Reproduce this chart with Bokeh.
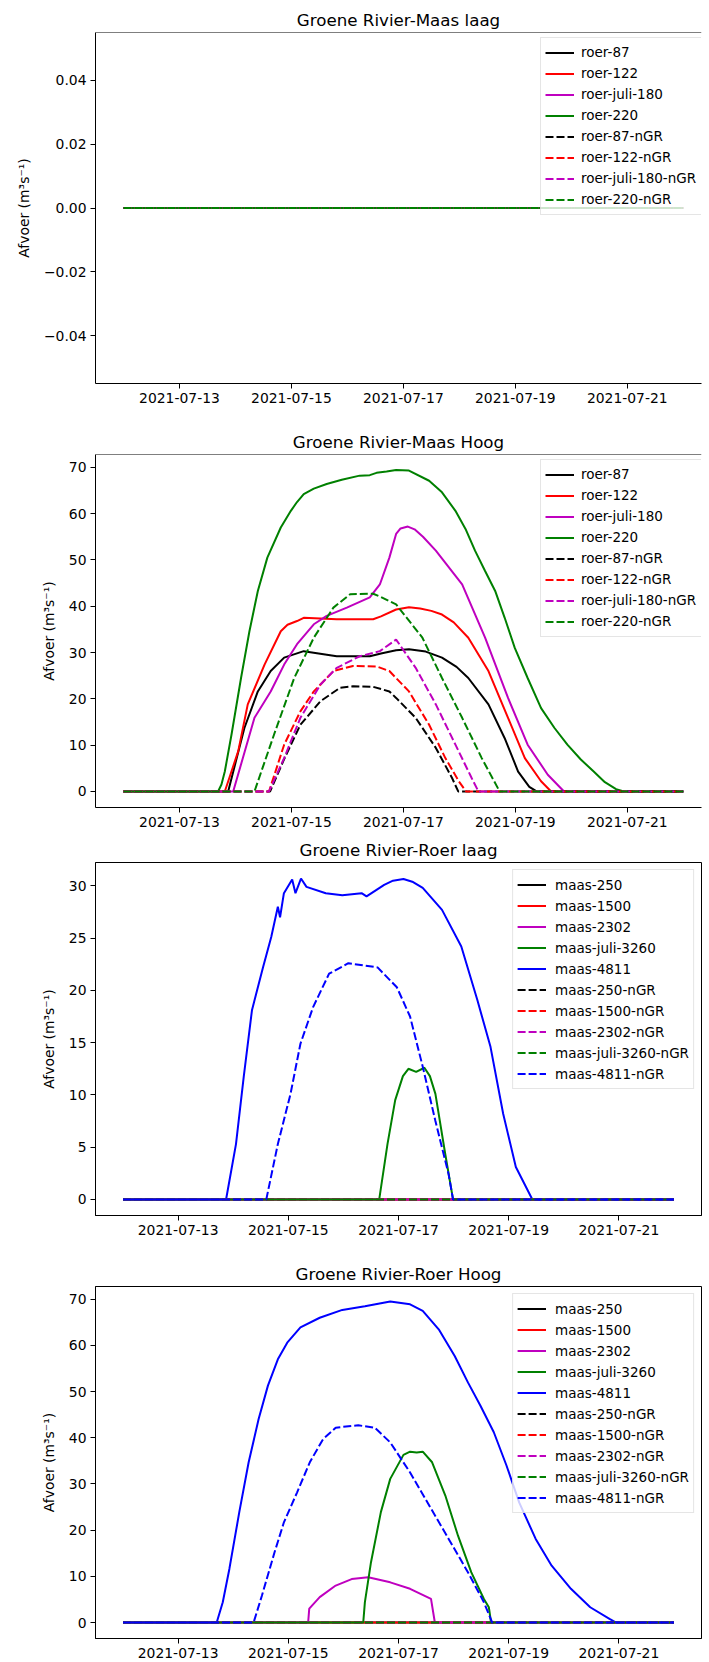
import pandas as pd
from bokeh.plotting import figure
from bokeh.layouts import column
from bokeh.models import Range1d, FixedTicker, DatetimeTickFormatter, Legend, LegendItem, Span
from bokeh.embed import file_html
from bokeh.resources import INLINE

START = "2021-07-12 00:00"          # t = 0 (days)
x_tick_labels = ["2021-07-13", "2021-07-15", "2021-07-17", "2021-07-19", "2021-07-21"]

# ---------------- Panel 1: Groene Rivier-Maas laag (all zero) ----------------
flat_t = [0, 10]
flat_q = [0, 0]
p1_yticks = [-0.04, -0.02, 0.0, 0.02, 0.04]
p1_ylabels = ["\u22120.04", "\u22120.02", "0.00", "0.02", "0.04"]

# ---------------- Panel 2: Groene Rivier-Maas Hoog ----------------
mh_roer87_t = [0, 1.87, 2.16, 2.40, 2.63, 2.87, 3.22, 3.81, 4.40, 4.60, 4.87, 5.1, 5.40, 5.69, 5.95, 6.16, 6.52, 6.81, 7.05, 7.25, 7.38, 10]
mh_roer87_q = [0, 0, 13.7, 21.6, 26, 28.9, 30.3, 29.2, 29.2, 29.8, 30.5, 30.7, 30.2, 28.9, 26.9, 24.5, 18.8, 11.5, 4.3, 1.0, 0, 0]
mh_roer122_t = [0, 1.81, 2.05, 2.22, 2.52, 2.81, 2.93, 3.10, 3.22, 3.81, 4.46, 4.60, 4.87, 5.1, 5.30, 5.50, 5.69, 5.90, 6.16, 6.52, 6.87, 7.17, 7.46, 7.64, 10]
mh_roer122_q = [0, 0, 8.7, 18.8, 27.4, 34.6, 36.0, 36.8, 37.5, 37.2, 37.2, 37.8, 39.3, 39.8, 39.5, 39.0, 38.2, 36.5, 33.2, 26, 15.9, 7.2, 2.2, 0, 0]
mh_roer180_t = [0, 1.96, 2.34, 2.63, 2.87, 3.10, 3.40, 3.63, 3.99, 4.40, 4.58, 4.75, 4.87, 4.95, 5.08, 5.20, 5.35, 5.58, 6.05, 6.46, 6.87, 7.22, 7.58, 7.87, 10]
mh_roer180_q = [0, 0, 15.9, 21.6, 27.4, 31.8, 36.1, 37.9, 39.7, 41.9, 44.7, 50.5, 55.6, 56.8, 57.2, 56.6, 55.0, 52, 44.7, 33.2, 20.2, 10.1, 3.6, 0, 0]
mh_roer220_t = [0, 1.69, 1.75, 1.81, 1.93, 2.10, 2.25, 2.40, 2.57, 2.81, 2.99, 3.10, 3.22, 3.40, 3.63, 3.90, 4.22, 4.40, 4.52, 4.70, 4.87, 5.10, 5.46, 5.69, 5.93, 6.11, 6.28, 6.46, 6.64, 6.81, 6.99, 7.22, 7.46, 7.70, 7.93, 8.17, 8.40, 8.60, 8.80, 8.94, 10]
mh_roer220_q = [0, 0, 1.5, 4.3, 12.3, 24.5, 34.6, 43.3, 50.5, 57, 60.6, 62.5, 64.2, 65.4, 66.4, 67.3, 68.2, 68.3, 68.8, 69.1, 69.4, 69.3, 67.1, 64.6, 60.6, 56.7, 52.0, 47.6, 43.3, 37.5, 31.0, 24.5, 18.0, 13.7, 10.1, 6.9, 4.3, 2.0, 0.5, 0, 0]
mh_roer87n_t = [0, 2.62, 2.87, 3.16, 3.52, 3.87, 4.10, 4.46, 4.75, 4.87, 5.22, 5.58, 5.87, 5.98, 10]
mh_roer87n_q = [0, 0, 7.0, 14.4, 19.5, 22.4, 22.7, 22.6, 21.6, 20.2, 15.9, 9.4, 2.9, 0, 0]
mh_roer122n_t = [0, 2.60, 2.87, 3.16, 3.40, 3.75, 4.10, 4.52, 4.75, 5.10, 5.46, 5.75, 5.99, 6.12, 10]
mh_roer122n_q = [0, 0, 10.1, 17.3, 21.6, 26, 27.1, 27.0, 26, 21.6, 14.4, 7.2, 2.2, 0, 0]
mh_roer180n_t = [0, 2.60, 2.87, 3.16, 3.52, 3.81, 4.22, 4.58, 4.87, 5.22, 5.58, 5.93, 6.22, 6.34, 10]
mh_roer180n_q = [0, 0, 7.2, 15.9, 23.1, 26.7, 29.2, 30.3, 32.8, 26.7, 18.8, 10.1, 2.9, 0, 0]
mh_roer220n_t = [0, 2.34, 2.69, 3.05, 3.40, 3.75, 4.05, 4.46, 4.60, 4.87, 5.34, 5.69, 6.05, 6.40, 6.72, 10]
mh_roer220n_q = [0, 0, 12.3, 24.5, 33.2, 39.7, 42.6, 42.7, 42.0, 40.4, 33.2, 24.5, 15.9, 7.2, 0, 0]
hoog_yticks = [0, 10, 20, 30, 40, 50, 60, 70]

# ---------------- Panel 3: Groene Rivier-Roer laag ----------------
rl_maas3260_t = [0, 4.65, 4.80, 4.94, 5.08, 5.18, 5.32, 5.47, 5.57, 5.67, 5.85, 5.99, 10]
rl_maas3260_q = [0, 0, 5.3, 9.5, 11.8, 12.5, 12.2, 12.6, 11.8, 10.1, 4.3, 0, 0]
rl_maas4811_t = [0, 1.87, 2.05, 2.19, 2.34, 2.54, 2.69, 2.81, 2.85, 2.92, 3.07, 3.13, 3.23, 3.33, 3.68, 3.98, 4.33, 4.42, 4.74, 4.90, 5.09, 5.25, 5.44, 5.79, 6.14, 6.43, 6.67, 6.90, 7.13, 7.43, 10]
rl_maas4811_q = [0, 0, 5.3, 11.7, 18.1, 22.2, 25.1, 28, 27, 29.3, 30.6, 29.3, 30.7, 29.9, 29.3, 29.1, 29.3, 29.0, 30.1, 30.5, 30.65, 30.4, 29.8, 27.7, 24.2, 19.1, 14.6, 8.2, 3.1, 0, 0]
rl_maas4811n_t = [0, 2.60, 2.81, 3.04, 3.22, 3.45, 3.74, 4.09, 4.62, 4.97, 5.21, 5.44, 5.67, 5.91, 5.99, 10]
rl_maas4811n_q = [0, 0, 5.3, 10.1, 14.9, 18.4, 21.6, 22.6, 22.2, 20.3, 17.5, 12.7, 7.5, 2.4, 0, 0]
rl_yticks = [0, 5, 10, 15, 20, 25, 30]

# ---------------- Panel 4: Groene Rivier-Roer Hoog ----------------
rh_maas2302_t = [0, 3.36, 3.38, 3.57, 3.86, 4.15, 4.45, 4.85, 5.21, 5.59, 5.66, 10]
rh_maas2302_q = [0, 0, 3.0, 5.5, 8.0, 9.4, 9.8, 8.7, 7.3, 5.1, 0, 0]
rh_maas3260_t = [0, 4.36, 4.39, 4.50, 4.68, 4.85, 5.09, 5.21, 5.33, 5.44, 5.61, 5.85, 6.08, 6.32, 6.55, 6.64, 6.68, 10]
rh_maas3260_q = [0, 0, 4.4, 13.0, 23.9, 31.1, 36.3, 37.0, 36.8, 37.0, 34.7, 27.5, 18.8, 10.9, 5.1, 3.3, 0, 0]
rh_maas4811_t = [0, 1.70, 1.81, 1.93, 2.11, 2.28, 2.46, 2.63, 2.81, 2.98, 3.22, 3.57, 3.98, 4.39, 4.85, 5.21, 5.44, 5.73, 6.02, 6.26, 6.49, 6.73, 6.96, 7.19, 7.49, 7.78, 8.13, 8.48, 8.83, 8.95, 10]
rh_maas4811_q = [0, 0, 4.4, 11.6, 23.9, 34.7, 44.0, 51.3, 57.0, 60.6, 63.9, 66.0, 67.7, 68.5, 69.5, 68.9, 67.5, 63.5, 57.7, 52.0, 46.9, 41.2, 34.0, 26.0, 18.1, 12.3, 7.3, 3.3, 0.8, 0, 0]
rh_maas4811n_t = [0, 2.37, 2.52, 2.75, 2.92, 3.16, 3.39, 3.63, 3.86, 4.27, 4.57, 4.85, 5.21, 5.56, 5.91, 6.26, 6.55, 6.70, 10]
rh_maas4811n_q = [0, 0, 5.8, 15.2, 21.7, 28.2, 34.7, 39.7, 42.2, 42.7, 42.2, 39.0, 32.5, 25.3, 18.1, 10.9, 4.4, 0, 0]

MAGENTA = "#bf00bf"
FONT = "DejaVu Sans"
DAY_MS = 86400000.0
base_ms = pd.Timestamp(START).value / 1e6


def to_ms(t_days):
    return [base_ms + t * DAY_MS for t in t_days]


x_ticks = [pd.Timestamp(s).value / 1e6 for s in x_tick_labels]

p1_series = [
    ("roer-87", flat_t, flat_q, "black", "solid"),
    ("roer-122", flat_t, flat_q, "red", "solid"),
    ("roer-juli-180", flat_t, flat_q, MAGENTA, "solid"),
    ("roer-220", flat_t, flat_q, "green", "solid"),
    ("roer-87-nGR", flat_t, flat_q, "black", "dashed"),
    ("roer-122-nGR", flat_t, flat_q, "red", "dashed"),
    ("roer-juli-180-nGR", flat_t, flat_q, MAGENTA, "dashed"),
    ("roer-220-nGR", flat_t, flat_q, "green", "dashed"),
]
p2_series = [
    ("roer-87", mh_roer87_t, mh_roer87_q, "black", "solid"),
    ("roer-122", mh_roer122_t, mh_roer122_q, "red", "solid"),
    ("roer-juli-180", mh_roer180_t, mh_roer180_q, MAGENTA, "solid"),
    ("roer-220", mh_roer220_t, mh_roer220_q, "green", "solid"),
    ("roer-87-nGR", mh_roer87n_t, mh_roer87n_q, "black", "dashed"),
    ("roer-122-nGR", mh_roer122n_t, mh_roer122n_q, "red", "dashed"),
    ("roer-juli-180-nGR", mh_roer180n_t, mh_roer180n_q, MAGENTA, "dashed"),
    ("roer-220-nGR", mh_roer220n_t, mh_roer220n_q, "green", "dashed"),
]
p3_series = [
    ("maas-250", flat_t, flat_q, "black", "solid"),
    ("maas-1500", flat_t, flat_q, "red", "solid"),
    ("maas-2302", flat_t, flat_q, MAGENTA, "solid"),
    ("maas-juli-3260", rl_maas3260_t, rl_maas3260_q, "green", "solid"),
    ("maas-4811", rl_maas4811_t, rl_maas4811_q, "blue", "solid"),
    ("maas-250-nGR", flat_t, flat_q, "black", "dashed"),
    ("maas-1500-nGR", flat_t, flat_q, "red", "dashed"),
    ("maas-2302-nGR", flat_t, flat_q, MAGENTA, "dashed"),
    ("maas-juli-3260-nGR", flat_t, flat_q, "green", "dashed"),
    ("maas-4811-nGR", rl_maas4811n_t, rl_maas4811n_q, "blue", "dashed"),
]
p4_series = [
    ("maas-250", flat_t, flat_q, "black", "solid"),
    ("maas-1500", flat_t, flat_q, "red", "solid"),
    ("maas-2302", rh_maas2302_t, rh_maas2302_q, MAGENTA, "solid"),
    ("maas-juli-3260", rh_maas3260_t, rh_maas3260_q, "green", "solid"),
    ("maas-4811", rh_maas4811_t, rh_maas4811_q, "blue", "solid"),
    ("maas-250-nGR", flat_t, flat_q, "black", "dashed"),
    ("maas-1500-nGR", flat_t, flat_q, "red", "dashed"),
    ("maas-2302-nGR", flat_t, flat_q, MAGENTA, "dashed"),
    ("maas-juli-3260-nGR", flat_t, flat_q, "green", "dashed"),
    ("maas-4811-nGR", rh_maas4811n_t, rh_maas4811n_q, "blue", "dashed"),
]


def make_panel(title, series, yticks, ylabels, yrange, x_end_days, height,
               b_top, b_bottom, b_left, b_right, cut_right):
    x0 = base_ms - 0.5 * DAY_MS
    x1 = base_ms + x_end_days * DAY_MS
    p = figure(width=709, height=height, x_axis_type="datetime",
               output_backend="svg", toolbar_location=None,
               x_range=Range1d(x0, x1), y_range=Range1d(*yrange),
               min_border_top=b_top, min_border_bottom=b_bottom,
               min_border_left=b_left, min_border_right=b_right)
    p.title.text = title
    p.title.align = "center"
    p.title.text_font = FONT
    p.title.text_font_size = "16.7px"
    p.title.text_font_style = "normal"
    p.title.text_color = "black"
    p.title.standoff = 5
    if cut_right:
        p.title.offset = 4
    p.grid.visible = False
    p.background_fill_color = "white"
    p.border_fill_color = "white"
    if cut_right:
        p.outline_line_color = None
        p.add_layout(Span(location=yrange[1], dimension="width", line_color="black", line_width=1))
    else:
        p.outline_line_color = "black"
        p.outline_line_width = 1
        p.outline_line_alpha = 1

    p.xaxis.ticker = FixedTicker(ticks=x_ticks)
    fmt = "%Y-%m-%d"
    p.xaxis.formatter = DatetimeTickFormatter(days=fmt, months=fmt, hours=fmt, years=fmt)
    p.yaxis.ticker = FixedTicker(ticks=yticks)
    p.yaxis.major_label_overrides = {v: s for v, s in zip(yticks, ylabels)}
    for ax in (p.xaxis, p.yaxis):
        ax.major_tick_in = 0
        ax.major_tick_out = 5
        ax.minor_tick_line_color = None
        ax.major_tick_line_color = "black"
        ax.axis_line_color = "black"
        ax.major_label_text_font = FONT
        ax.major_label_text_font_size = "13.9px"
        ax.major_label_text_color = "black"
        ax.major_label_standoff = 4
    p.yaxis.axis_label = "Afvoer (m\u00b3s\u207b\u00b9)"
    p.yaxis.axis_label_text_font = FONT
    p.yaxis.axis_label_text_font_size = "13.9px"
    p.yaxis.axis_label_text_font_style = "normal"
    p.yaxis.axis_label_text_color = "black"
    p.yaxis.axis_label_standoff = 9

    items = []
    for label, t, q, color, dash in series:
        r = p.line(to_ms(t), q, line_color=color, line_width=2,
                   line_dash="8 3" if dash == "dashed" else "solid")
        items.append(LegendItem(label=label, renderers=[r]))
    leg = Legend(items=items, location="top_right", margin=7, padding=4,
                 spacing=0, glyph_height=21, label_height=21, glyph_width=29,
                 label_standoff=9, label_text_font=FONT,
                 label_text_font_size="13.5px", label_text_color="black",
                 background_fill_color="white", background_fill_alpha=0.8,
                 border_line_color="#cccccc", border_line_width=1)
    if cut_right:
        frame_h = height - b_top - b_bottom
        leg_h = 21 * len(series) + 8
        leg.location = (445, frame_h - 6.6 - leg_h)
        leg.label_standoff = 7
        leg.label_width = 124
    p.add_layout(leg)
    return p


p1 = make_panel("Groene Rivier-Maas laag", p1_series, p1_yticks, p1_ylabels,
                (-0.055, 0.055), 10.326, 420, 32, 37, 95, 0, True)
p2 = make_panel("Groene Rivier-Maas Hoog", p2_series, hoog_yticks,
                [str(v) for v in hoog_yticks], (-3.465, 72.765), 10.326, 410, 34, 23, 95, 0, True)
p3 = make_panel("Groene Rivier-Roer laag", p3_series, rl_yticks,
                [str(v) for v in rl_yticks], (-1.535, 32.235), 10.5, 410, 32, 25, 75, 8, False)
p4 = make_panel("Groene Rivier-Roer Hoog", p4_series, hoog_yticks,
                [str(v) for v in hoog_yticks], (-3.465, 72.765), 10.5, 422, 46, 24, 75, 8, False)

layout = column(p1, p2, p3, p4, spacing=0)
open("out.html", "w").write(file_html(layout, INLINE))
